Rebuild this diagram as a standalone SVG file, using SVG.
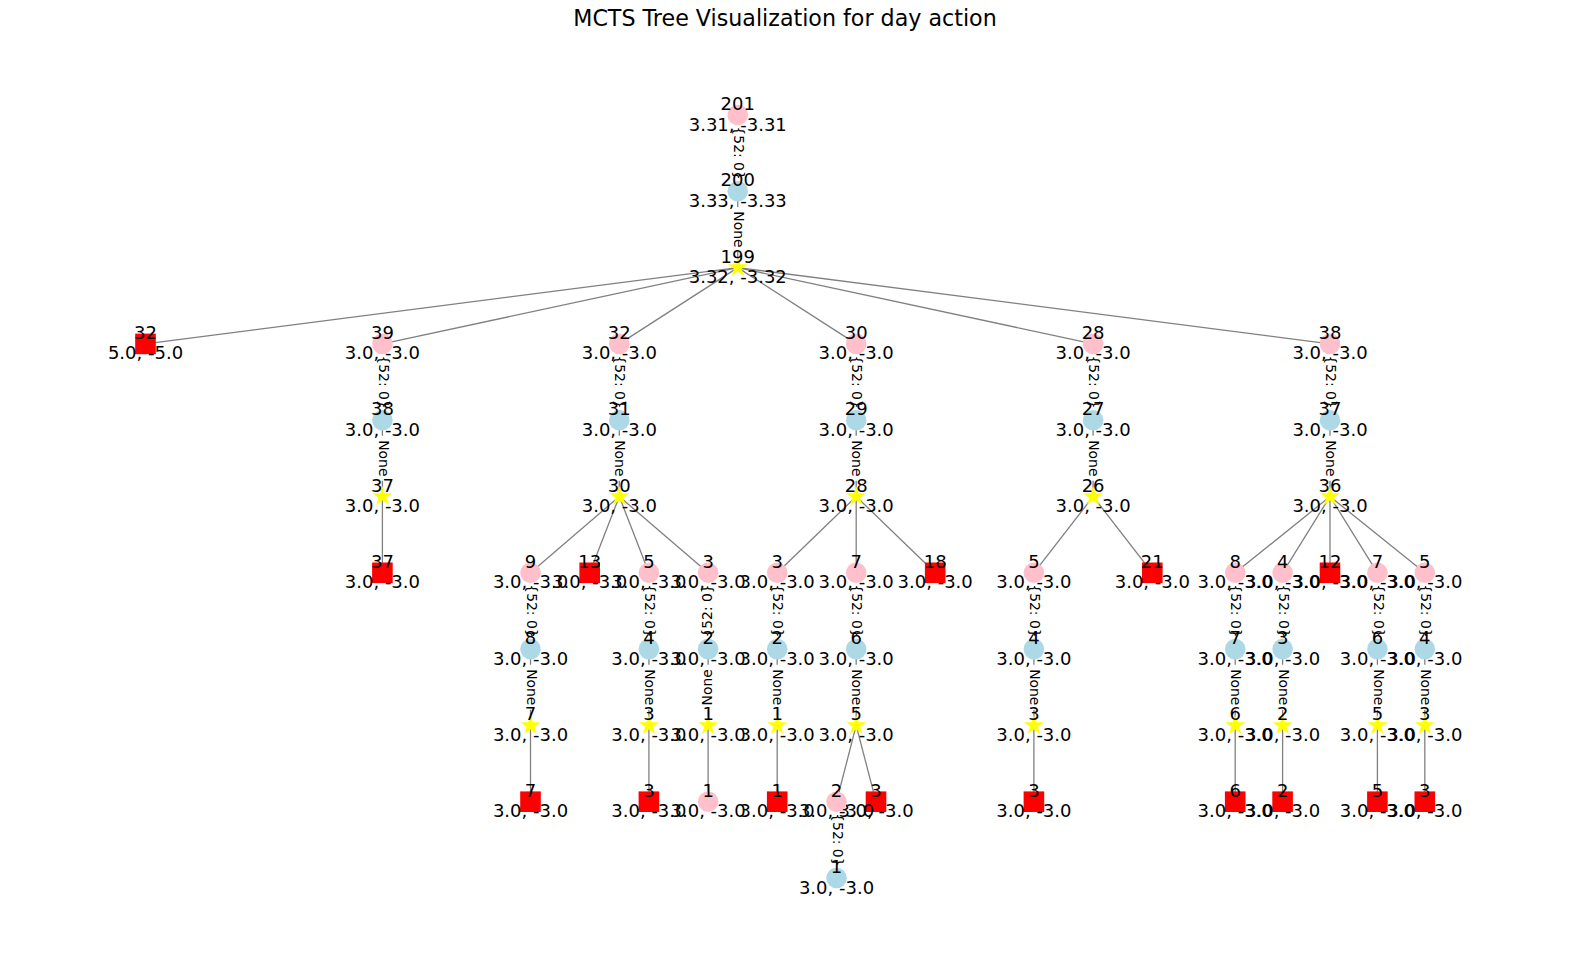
<svg xmlns="http://www.w3.org/2000/svg" xmlns:xlink="http://www.w3.org/1999/xlink" width="1570" height="968" viewBox="0 0 1570 968">
<style>
text{font-family:"DejaVu Sans","Liberation Sans",sans-serif;fill:#000}
.title{font-size:22.2px;text-anchor:middle}
.nl{font-size:18px;text-anchor:middle}
.el{font-size:13.9px;text-anchor:middle}
.pink{fill:#FFC0CB}
.blue{fill:#ADD8E6}
.yel{fill:#FFFF00}
.red{fill:#FF0000}
.edge{stroke:#808080;stroke-width:1.3;fill:none}
.bg{fill:#FFFFFF}
</style>
<defs>
<path id="star" d="M0,-10.5 L2.357,-3.245 L9.986,-3.245 L3.815,1.239 L6.172,8.495 L0,4.011 L-6.172,8.495 L-3.815,1.239 L-9.986,-3.245 L-2.357,-3.245 Z"/>
<circle id="circ" r="10.3"/>
<rect id="sq" x="-10.3" y="-10.3" width="20.6" height="20.6"/>
<g id="lab52"><rect class="bg" x="-31" y="-11" width="62" height="22" rx="4"/><text class="el" y="3.8">{52: 0}</text></g>
<g id="labNone"><rect class="bg" x="-22.5" y="-11" width="45" height="22" rx="4"/><text class="el" y="3.8">None</text></g>
</defs>
<rect width="1570" height="968" fill="#FFFFFF"/>
<text class="title" x="785" y="26">MCTS Tree Visualization for day action</text>

<g id="connectors">
<line class="edge" x1="737.75" y1="115" x2="737.75" y2="191.3"/>
<line class="edge" x1="737.75" y1="191.3" x2="737.75" y2="267.6"/>
<line class="edge" x1="737.75" y1="267.6" x2="145.5" y2="343.9"/>
<line class="edge" x1="737.75" y1="267.6" x2="382.4" y2="343.9"/>
<line class="edge" x1="737.75" y1="267.6" x2="619.3" y2="343.9"/>
<line class="edge" x1="737.75" y1="267.6" x2="856.2" y2="343.9"/>
<line class="edge" x1="737.75" y1="267.6" x2="1093.1" y2="343.9"/>
<line class="edge" x1="737.75" y1="267.6" x2="1330" y2="343.9"/>
<line class="edge" x1="382.4" y1="343.9" x2="382.4" y2="572.8"/>
<line class="edge" x1="619.3" y1="343.9" x2="619.3" y2="496.5"/>
<line class="edge" x1="856.2" y1="343.9" x2="856.2" y2="496.5"/>
<line class="edge" x1="1093.1" y1="343.9" x2="1093.1" y2="496.5"/>
<line class="edge" x1="1330" y1="343.9" x2="1330" y2="496.5"/>
<line class="edge" x1="619.3" y1="496.5" x2="530.5" y2="572.8"/>
<line class="edge" x1="619.3" y1="496.5" x2="589.7" y2="572.8"/>
<line class="edge" x1="619.3" y1="496.5" x2="648.9" y2="572.8"/>
<line class="edge" x1="619.3" y1="496.5" x2="708.1" y2="572.8"/>
<line class="edge" x1="856.2" y1="496.5" x2="777.2" y2="572.8"/>
<line class="edge" x1="856.2" y1="496.5" x2="856.2" y2="572.8"/>
<line class="edge" x1="856.2" y1="496.5" x2="935.2" y2="572.8"/>
<line class="edge" x1="1093.1" y1="496.5" x2="1033.9" y2="572.8"/>
<line class="edge" x1="1093.1" y1="496.5" x2="1152.3" y2="572.8"/>
<line class="edge" x1="1330" y1="496.5" x2="1235.2" y2="572.8"/>
<line class="edge" x1="1330" y1="496.5" x2="1282.6" y2="572.8"/>
<line class="edge" x1="1330" y1="496.5" x2="1330" y2="572.8"/>
<line class="edge" x1="1330" y1="496.5" x2="1377.4" y2="572.8"/>
<line class="edge" x1="1330" y1="496.5" x2="1424.8" y2="572.8"/>
<line class="edge" x1="530.5" y1="572.8" x2="530.5" y2="801.7"/>
<line class="edge" x1="648.9" y1="572.8" x2="648.9" y2="801.7"/>
<line class="edge" x1="708.1" y1="572.8" x2="708.1" y2="801.7"/>
<line class="edge" x1="777.2" y1="572.8" x2="777.2" y2="801.7"/>
<line class="edge" x1="856.2" y1="572.8" x2="856.2" y2="725.4"/>
<line class="edge" x1="856.2" y1="725.4" x2="836.5" y2="801.7"/>
<line class="edge" x1="856.2" y1="725.4" x2="876" y2="801.7"/>
<line class="edge" x1="836.5" y1="801.7" x2="836.5" y2="878"/>
<line class="edge" x1="1033.9" y1="572.8" x2="1033.9" y2="801.7"/>
<line class="edge" x1="1235.2" y1="572.8" x2="1235.2" y2="801.7"/>
<line class="edge" x1="1282.6" y1="572.8" x2="1282.6" y2="801.7"/>
<line class="edge" x1="1377.4" y1="572.8" x2="1377.4" y2="801.7"/>
<line class="edge" x1="1424.8" y1="572.8" x2="1424.8" y2="801.7"/>
</g>

<g id="edge-labels">
<use xlink:href="#lab52" href="#lab52" transform="translate(737.75,153.15) rotate(90)"/>
<use xlink:href="#labNone" href="#labNone" transform="translate(737.75,229.45) rotate(90)"/>
<use xlink:href="#lab52" href="#lab52" transform="translate(382.4,382.05) rotate(90)"/>
<use xlink:href="#lab52" href="#lab52" transform="translate(619.3,382.05) rotate(90)"/>
<use xlink:href="#lab52" href="#lab52" transform="translate(856.2,382.05) rotate(90)"/>
<use xlink:href="#lab52" href="#lab52" transform="translate(1093.1,382.05) rotate(90)"/>
<use xlink:href="#lab52" href="#lab52" transform="translate(1330,382.05) rotate(90)"/>
<use xlink:href="#labNone" href="#labNone" transform="translate(382.4,458.35) rotate(90)"/>
<use xlink:href="#labNone" href="#labNone" transform="translate(619.3,458.35) rotate(90)"/>
<use xlink:href="#labNone" href="#labNone" transform="translate(856.2,458.35) rotate(90)"/>
<use xlink:href="#labNone" href="#labNone" transform="translate(1093.1,458.35) rotate(90)"/>
<use xlink:href="#labNone" href="#labNone" transform="translate(1330,458.35) rotate(90)"/>
<use xlink:href="#lab52" href="#lab52" transform="translate(530.5,610.95) rotate(90)"/>
<use xlink:href="#lab52" href="#lab52" transform="translate(648.9,610.95) rotate(90)"/>
<use xlink:href="#lab52" href="#lab52" transform="translate(708.1,610.95) rotate(-90)"/>
<use xlink:href="#lab52" href="#lab52" transform="translate(777.2,610.95) rotate(90)"/>
<use xlink:href="#lab52" href="#lab52" transform="translate(856.2,610.95) rotate(90)"/>
<use xlink:href="#lab52" href="#lab52" transform="translate(1033.9,610.95) rotate(90)"/>
<use xlink:href="#lab52" href="#lab52" transform="translate(1235.2,610.95) rotate(90)"/>
<use xlink:href="#lab52" href="#lab52" transform="translate(1282.6,610.95) rotate(90)"/>
<use xlink:href="#lab52" href="#lab52" transform="translate(1377.4,610.95) rotate(90)"/>
<use xlink:href="#lab52" href="#lab52" transform="translate(1424.8,610.95) rotate(90)"/>
<use xlink:href="#labNone" href="#labNone" transform="translate(530.5,687.25) rotate(90)"/>
<use xlink:href="#labNone" href="#labNone" transform="translate(648.9,687.25) rotate(90)"/>
<use xlink:href="#labNone" href="#labNone" transform="translate(708.1,687.25) rotate(-90)"/>
<use xlink:href="#labNone" href="#labNone" transform="translate(777.2,687.25) rotate(90)"/>
<use xlink:href="#labNone" href="#labNone" transform="translate(856.2,687.25) rotate(90)"/>
<use xlink:href="#labNone" href="#labNone" transform="translate(1033.9,687.25) rotate(90)"/>
<use xlink:href="#labNone" href="#labNone" transform="translate(1235.2,687.25) rotate(90)"/>
<use xlink:href="#labNone" href="#labNone" transform="translate(1282.6,687.25) rotate(90)"/>
<use xlink:href="#labNone" href="#labNone" transform="translate(1377.4,687.25) rotate(90)"/>
<use xlink:href="#labNone" href="#labNone" transform="translate(1424.8,687.25) rotate(90)"/>
<use xlink:href="#lab52" href="#lab52" transform="translate(836.5,839.85) rotate(90)"/>
</g>

<g id="nodes">
<g id="a0" transform="translate(737.75,115)"><use href="#circ" xlink:href="#circ" class="pink"/><text class="nl"><tspan x="0" y="-5">201</tspan><tspan x="0" y="15.5">3.31, -3.31</tspan></text></g>
<g id="a1" transform="translate(737.75,191.3)"><use href="#circ" xlink:href="#circ" class="blue"/><text class="nl"><tspan x="0" y="-5">200</tspan><tspan x="0" y="15.5">3.33, -3.33</tspan></text></g>
<g id="a2" transform="translate(737.75,267.6)"><use href="#star" xlink:href="#star" class="yel"/><text class="nl"><tspan x="0" y="-5">199</tspan><tspan x="0" y="15.5">3.32, -3.32</tspan></text></g>

<g id="b0" transform="translate(145.5,343.9)"><use href="#sq" xlink:href="#sq" class="red"/><text class="nl"><tspan x="0" y="-5">32</tspan><tspan x="0" y="15.5">5.0, -5.0</tspan></text></g>
<g id="b1" transform="translate(382.4,343.9)"><use href="#circ" xlink:href="#circ" class="pink"/><text class="nl"><tspan x="0" y="-5">39</tspan><tspan x="0" y="15.5">3.0, -3.0</tspan></text></g>
<g id="b2" transform="translate(619.3,343.9)"><use href="#circ" xlink:href="#circ" class="pink"/><text class="nl"><tspan x="0" y="-5">32</tspan><tspan x="0" y="15.5">3.0, -3.0</tspan></text></g>
<g id="b3" transform="translate(856.2,343.9)"><use href="#circ" xlink:href="#circ" class="pink"/><text class="nl"><tspan x="0" y="-5">30</tspan><tspan x="0" y="15.5">3.0, -3.0</tspan></text></g>
<g id="b4" transform="translate(1093.1,343.9)"><use href="#circ" xlink:href="#circ" class="pink"/><text class="nl"><tspan x="0" y="-5">28</tspan><tspan x="0" y="15.5">3.0, -3.0</tspan></text></g>
<g id="b5" transform="translate(1330,343.9)"><use href="#circ" xlink:href="#circ" class="pink"/><text class="nl"><tspan x="0" y="-5">38</tspan><tspan x="0" y="15.5">3.0, -3.0</tspan></text></g>

<g id="c1" transform="translate(382.4,420.2)"><use href="#circ" xlink:href="#circ" class="blue"/><text class="nl"><tspan x="0" y="-5">38</tspan><tspan x="0" y="15.5">3.0, -3.0</tspan></text></g>
<g id="c2" transform="translate(619.3,420.2)"><use href="#circ" xlink:href="#circ" class="blue"/><text class="nl"><tspan x="0" y="-5">31</tspan><tspan x="0" y="15.5">3.0, -3.0</tspan></text></g>
<g id="c3" transform="translate(856.2,420.2)"><use href="#circ" xlink:href="#circ" class="blue"/><text class="nl"><tspan x="0" y="-5">29</tspan><tspan x="0" y="15.5">3.0, -3.0</tspan></text></g>
<g id="c4" transform="translate(1093.1,420.2)"><use href="#circ" xlink:href="#circ" class="blue"/><text class="nl"><tspan x="0" y="-5">27</tspan><tspan x="0" y="15.5">3.0, -3.0</tspan></text></g>
<g id="c5" transform="translate(1330,420.2)"><use href="#circ" xlink:href="#circ" class="blue"/><text class="nl"><tspan x="0" y="-5">37</tspan><tspan x="0" y="15.5">3.0, -3.0</tspan></text></g>

<g id="d1" transform="translate(382.4,496.5)"><use href="#star" xlink:href="#star" class="yel"/><text class="nl"><tspan x="0" y="-5">37</tspan><tspan x="0" y="15.5">3.0, -3.0</tspan></text></g>
<g id="d2" transform="translate(619.3,496.5)"><use href="#star" xlink:href="#star" class="yel"/><text class="nl"><tspan x="0" y="-5">30</tspan><tspan x="0" y="15.5">3.0, -3.0</tspan></text></g>
<g id="d3" transform="translate(856.2,496.5)"><use href="#star" xlink:href="#star" class="yel"/><text class="nl"><tspan x="0" y="-5">28</tspan><tspan x="0" y="15.5">3.0, -3.0</tspan></text></g>
<g id="d4" transform="translate(1093.1,496.5)"><use href="#star" xlink:href="#star" class="yel"/><text class="nl"><tspan x="0" y="-5">26</tspan><tspan x="0" y="15.5">3.0, -3.0</tspan></text></g>
<g id="d5" transform="translate(1330,496.5)"><use href="#star" xlink:href="#star" class="yel"/><text class="nl"><tspan x="0" y="-5">36</tspan><tspan x="0" y="15.5">3.0, -3.0</tspan></text></g>

<g id="e1" transform="translate(382.4,572.8)"><use href="#sq" xlink:href="#sq" class="red"/><text class="nl"><tspan x="0" y="-5">37</tspan><tspan x="0" y="15.5">3.0, -3.0</tspan></text></g>
<g id="e2" transform="translate(530.5,572.8)"><use href="#circ" xlink:href="#circ" class="pink"/><text class="nl"><tspan x="0" y="-5">9</tspan><tspan x="0" y="15.5">3.0, -3.0</tspan></text></g>
<g id="e3" transform="translate(589.7,572.8)"><use href="#sq" xlink:href="#sq" class="red"/><text class="nl"><tspan x="0" y="-5">13</tspan><tspan x="0" y="15.5">3.0, -3.0</tspan></text></g>
<g id="e4" transform="translate(648.9,572.8)"><use href="#circ" xlink:href="#circ" class="pink"/><text class="nl"><tspan x="0" y="-5">5</tspan><tspan x="0" y="15.5">3.0, -3.0</tspan></text></g>
<g id="e5" transform="translate(708.1,572.8)"><use href="#circ" xlink:href="#circ" class="pink"/><text class="nl"><tspan x="0" y="-5">3</tspan><tspan x="0" y="15.5">3.0, -3.0</tspan></text></g>
<g id="e6" transform="translate(777.2,572.8)"><use href="#circ" xlink:href="#circ" class="pink"/><text class="nl"><tspan x="0" y="-5">3</tspan><tspan x="0" y="15.5">3.0, -3.0</tspan></text></g>
<g id="e7" transform="translate(856.2,572.8)"><use href="#circ" xlink:href="#circ" class="pink"/><text class="nl"><tspan x="0" y="-5">7</tspan><tspan x="0" y="15.5">3.0, -3.0</tspan></text></g>
<g id="e8" transform="translate(935.2,572.8)"><use href="#sq" xlink:href="#sq" class="red"/><text class="nl"><tspan x="0" y="-5">18</tspan><tspan x="0" y="15.5">3.0, -3.0</tspan></text></g>
<g id="e9" transform="translate(1033.9,572.8)"><use href="#circ" xlink:href="#circ" class="pink"/><text class="nl"><tspan x="0" y="-5">5</tspan><tspan x="0" y="15.5">3.0, -3.0</tspan></text></g>
<g id="e10" transform="translate(1152.3,572.8)"><use href="#sq" xlink:href="#sq" class="red"/><text class="nl"><tspan x="0" y="-5">21</tspan><tspan x="0" y="15.5">3.0, -3.0</tspan></text></g>
<g id="e11" transform="translate(1235.2,572.8)"><use href="#circ" xlink:href="#circ" class="pink"/><text class="nl"><tspan x="0" y="-5">8</tspan><tspan x="0" y="15.5">3.0, -3.0</tspan></text></g>
<g id="e12" transform="translate(1282.6,572.8)"><use href="#circ" xlink:href="#circ" class="pink"/><text class="nl"><tspan x="0" y="-5">4</tspan><tspan x="0" y="15.5">3.0, -3.0</tspan></text></g>
<g id="e13" transform="translate(1330,572.8)"><use href="#sq" xlink:href="#sq" class="red"/><text class="nl"><tspan x="0" y="-5">12</tspan><tspan x="0" y="15.5">3.0, -3.0</tspan></text></g>
<g id="e14" transform="translate(1377.4,572.8)"><use href="#circ" xlink:href="#circ" class="pink"/><text class="nl"><tspan x="0" y="-5">7</tspan><tspan x="0" y="15.5">3.0, -3.0</tspan></text></g>
<g id="e15" transform="translate(1424.8,572.8)"><use href="#circ" xlink:href="#circ" class="pink"/><text class="nl"><tspan x="0" y="-5">5</tspan><tspan x="0" y="15.5">3.0, -3.0</tspan></text></g>

<g id="f2" transform="translate(530.5,649.1)"><use href="#circ" xlink:href="#circ" class="blue"/><text class="nl"><tspan x="0" y="-5">8</tspan><tspan x="0" y="15.5">3.0, -3.0</tspan></text></g>
<g id="f4" transform="translate(648.9,649.1)"><use href="#circ" xlink:href="#circ" class="blue"/><text class="nl"><tspan x="0" y="-5">4</tspan><tspan x="0" y="15.5">3.0, -3.0</tspan></text></g>
<g id="f5" transform="translate(708.1,649.1)"><use href="#circ" xlink:href="#circ" class="blue"/><text class="nl"><tspan x="0" y="-5">2</tspan><tspan x="0" y="15.5">3.0, -3.0</tspan></text></g>
<g id="f6" transform="translate(777.2,649.1)"><use href="#circ" xlink:href="#circ" class="blue"/><text class="nl"><tspan x="0" y="-5">2</tspan><tspan x="0" y="15.5">3.0, -3.0</tspan></text></g>
<g id="f7" transform="translate(856.2,649.1)"><use href="#circ" xlink:href="#circ" class="blue"/><text class="nl"><tspan x="0" y="-5">6</tspan><tspan x="0" y="15.5">3.0, -3.0</tspan></text></g>
<g id="f9" transform="translate(1033.9,649.1)"><use href="#circ" xlink:href="#circ" class="blue"/><text class="nl"><tspan x="0" y="-5">4</tspan><tspan x="0" y="15.5">3.0, -3.0</tspan></text></g>
<g id="f11" transform="translate(1235.2,649.1)"><use href="#circ" xlink:href="#circ" class="blue"/><text class="nl"><tspan x="0" y="-5">7</tspan><tspan x="0" y="15.5">3.0, -3.0</tspan></text></g>
<g id="f12" transform="translate(1282.6,649.1)"><use href="#circ" xlink:href="#circ" class="blue"/><text class="nl"><tspan x="0" y="-5">3</tspan><tspan x="0" y="15.5">3.0, -3.0</tspan></text></g>
<g id="f14" transform="translate(1377.4,649.1)"><use href="#circ" xlink:href="#circ" class="blue"/><text class="nl"><tspan x="0" y="-5">6</tspan><tspan x="0" y="15.5">3.0, -3.0</tspan></text></g>
<g id="f15" transform="translate(1424.8,649.1)"><use href="#circ" xlink:href="#circ" class="blue"/><text class="nl"><tspan x="0" y="-5">4</tspan><tspan x="0" y="15.5">3.0, -3.0</tspan></text></g>

<g id="g2" transform="translate(530.5,725.4)"><use href="#star" xlink:href="#star" class="yel"/><text class="nl"><tspan x="0" y="-5">7</tspan><tspan x="0" y="15.5">3.0, -3.0</tspan></text></g>
<g id="g4" transform="translate(648.9,725.4)"><use href="#star" xlink:href="#star" class="yel"/><text class="nl"><tspan x="0" y="-5">3</tspan><tspan x="0" y="15.5">3.0, -3.0</tspan></text></g>
<g id="g5" transform="translate(708.1,725.4)"><use href="#star" xlink:href="#star" class="yel"/><text class="nl"><tspan x="0" y="-5">1</tspan><tspan x="0" y="15.5">3.0, -3.0</tspan></text></g>
<g id="g6" transform="translate(777.2,725.4)"><use href="#star" xlink:href="#star" class="yel"/><text class="nl"><tspan x="0" y="-5">1</tspan><tspan x="0" y="15.5">3.0, -3.0</tspan></text></g>
<g id="g7" transform="translate(856.2,725.4)"><use href="#star" xlink:href="#star" class="yel"/><text class="nl"><tspan x="0" y="-5">5</tspan><tspan x="0" y="15.5">3.0, -3.0</tspan></text></g>
<g id="g9" transform="translate(1033.9,725.4)"><use href="#star" xlink:href="#star" class="yel"/><text class="nl"><tspan x="0" y="-5">3</tspan><tspan x="0" y="15.5">3.0, -3.0</tspan></text></g>
<g id="g11" transform="translate(1235.2,725.4)"><use href="#star" xlink:href="#star" class="yel"/><text class="nl"><tspan x="0" y="-5">6</tspan><tspan x="0" y="15.5">3.0, -3.0</tspan></text></g>
<g id="g12" transform="translate(1282.6,725.4)"><use href="#star" xlink:href="#star" class="yel"/><text class="nl"><tspan x="0" y="-5">2</tspan><tspan x="0" y="15.5">3.0, -3.0</tspan></text></g>
<g id="g14" transform="translate(1377.4,725.4)"><use href="#star" xlink:href="#star" class="yel"/><text class="nl"><tspan x="0" y="-5">5</tspan><tspan x="0" y="15.5">3.0, -3.0</tspan></text></g>
<g id="g15" transform="translate(1424.8,725.4)"><use href="#star" xlink:href="#star" class="yel"/><text class="nl"><tspan x="0" y="-5">3</tspan><tspan x="0" y="15.5">3.0, -3.0</tspan></text></g>

<g id="h2" transform="translate(530.5,801.7)"><use href="#sq" xlink:href="#sq" class="red"/><text class="nl"><tspan x="0" y="-5">7</tspan><tspan x="0" y="15.5">3.0, -3.0</tspan></text></g>
<g id="h4" transform="translate(648.9,801.7)"><use href="#sq" xlink:href="#sq" class="red"/><text class="nl"><tspan x="0" y="-5">3</tspan><tspan x="0" y="15.5">3.0, -3.0</tspan></text></g>
<g id="h5" transform="translate(708.1,801.7)"><use href="#circ" xlink:href="#circ" class="pink"/><text class="nl"><tspan x="0" y="-5">1</tspan><tspan x="0" y="15.5">3.0, -3.0</tspan></text></g>
<g id="h6" transform="translate(777.2,801.7)"><use href="#sq" xlink:href="#sq" class="red"/><text class="nl"><tspan x="0" y="-5">1</tspan><tspan x="0" y="15.5">3.0, -3.0</tspan></text></g>
<g id="h7b" transform="translate(876,801.7)"><use href="#sq" xlink:href="#sq" class="red"/><text class="nl"><tspan x="0" y="-5">3</tspan><tspan x="0" y="15.5">3.0, -3.0</tspan></text></g>
<g id="h7a" transform="translate(836.5,801.7)"><use href="#circ" xlink:href="#circ" class="pink"/><text class="nl"><tspan x="0" y="-5">2</tspan><tspan x="0" y="15.5">3.0, -3.0</tspan></text></g>
<g id="h9" transform="translate(1033.9,801.7)"><use href="#sq" xlink:href="#sq" class="red"/><text class="nl"><tspan x="0" y="-5">3</tspan><tspan x="0" y="15.5">3.0, -3.0</tspan></text></g>
<g id="h11" transform="translate(1235.2,801.7)"><use href="#sq" xlink:href="#sq" class="red"/><text class="nl"><tspan x="0" y="-5">6</tspan><tspan x="0" y="15.5">3.0, -3.0</tspan></text></g>
<g id="h12" transform="translate(1282.6,801.7)"><use href="#sq" xlink:href="#sq" class="red"/><text class="nl"><tspan x="0" y="-5">2</tspan><tspan x="0" y="15.5">3.0, -3.0</tspan></text></g>
<g id="h14" transform="translate(1377.4,801.7)"><use href="#sq" xlink:href="#sq" class="red"/><text class="nl"><tspan x="0" y="-5">5</tspan><tspan x="0" y="15.5">3.0, -3.0</tspan></text></g>
<g id="h15" transform="translate(1424.8,801.7)"><use href="#sq" xlink:href="#sq" class="red"/><text class="nl"><tspan x="0" y="-5">3</tspan><tspan x="0" y="15.5">3.0, -3.0</tspan></text></g>

<g id="i7" transform="translate(836.5,878)"><use href="#circ" xlink:href="#circ" class="blue"/><text class="nl"><tspan x="0" y="-5">1</tspan><tspan x="0" y="15.5">3.0, -3.0</tspan></text></g>
</g>
</svg>
